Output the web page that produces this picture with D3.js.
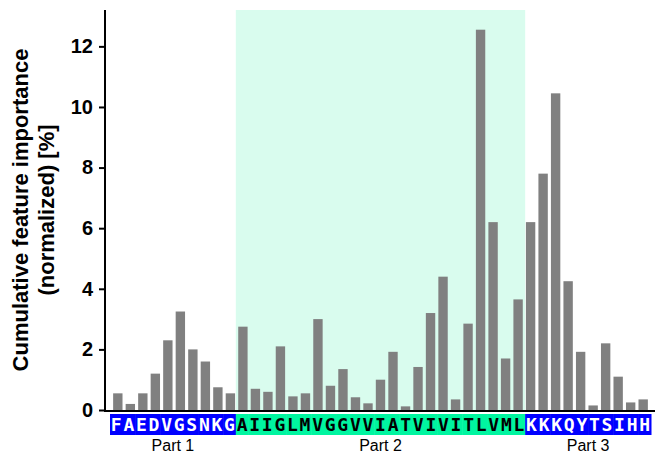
<!doctype html>
<html>
<head>
<script src="https://cdn.jsdelivr.net/npm/d3@7"></script>
<style>body{margin:0;background:#fff}text{font-family:Arial,"Liberation Sans",sans-serif}</style>
</head>
<body>
<svg id="chart" width="666" height="466"></svg>
<script>
var part1 = "FAEDVGSNKG".split("");
var part2 = "AIIGLMVGGVVIATVIVITLVML".split("");
var part3 = "KKKQYTSIHH".split("");
var values1 = [0.55,0.2,0.55,1.2,2.3,3.25,2.0,1.6,0.75,0.55];
var values2 = [2.75,0.7,0.6,2.1,0.45,0.55,3.0,0.8,1.35,0.42,0.22,1.0,1.92,0.12,1.42,3.2,4.4,0.35,2.85,12.55,6.2,1.7,3.65];
var values3 = [6.2,7.8,10.45,4.25,1.92,0.15,2.2,1.1,0.25,0.35];
var yTicks = [0,2,4,6,8,10,12];

var data = [];
[[part1,values1,1],[part2,values2,2],[part3,values3,3]].forEach(function(p){
  p[0].forEach(function(l,i){ data.push({i:data.length, letter:l, v:p[1][i], part:p[2]}); });
});

var svg = d3.select("#chart");
var mLeft = 105, mRight = 655, mTop = 10, mBottom = 410;
var x = d3.scaleBand().domain(d3.range(data.length)).range([mLeft+5, mRight-4]).padding(0.25);
var xo = d3.scaleBand().domain(d3.range(data.length)).range([mLeft+5, mRight-4]).padding(0);
var y = d3.scaleLinear().domain([0,13.2]).range([mBottom, mTop]);

// shaded part 2
var s = xo(part1.length), e = xo(part1.length+part2.length-1)+xo.bandwidth();
svg.append("rect").attr("x",s).attr("y",mTop).attr("width",e-s).attr("height",mBottom-mTop).attr("fill","#d9fcee");

svg.selectAll(".bar").data(data).enter().append("rect")
  .attr("x",function(d){return x(d.i);}).attr("width",x.bandwidth())
  .attr("y",function(d){return y(d.v);}).attr("height",function(d){return mBottom-y(d.v);})
  .attr("fill","#808080");

// letter boxes
svg.selectAll(".box").data(data).enter().append("rect")
  .attr("x",function(d){return xo(d.i);}).attr("width",xo.bandwidth()+0.5)
  .attr("y",414).attr("height",21)
  .attr("fill",function(d){return d.part===2?"#00f5a0":"#0000ff";});
svg.selectAll(".let").data(data).enter().append("text")
  .attr("x",function(d){return xo(d.i)+xo.bandwidth()/2;}).attr("y",431)
  .attr("text-anchor","middle").style("font-family","'DejaVu Sans Mono',monospace")
  .style("font-weight","bold").style("font-size","18px")
  .attr("fill",function(d){return d.part===2?"#000":"#fff";})
  .text(function(d){return d.letter;});

var partLabels = [["Part 1",0,part1.length],["Part 2",part1.length,part2.length],["Part 3",part1.length+part2.length,part3.length]];
partLabels.forEach(function(p){
  var a = xo(p[1]), b = xo(p[1]+p[2]-1)+xo.bandwidth();
  svg.append("text").attr("x",(a+b)/2).attr("y",451).attr("text-anchor","middle").style("font-size","16px").text(p[0]);
});

var yAxis = svg.append("g").attr("transform","translate("+mLeft+",0)").call(d3.axisLeft(y).tickValues(yTicks).tickSize(6).tickPadding(6));
yAxis.select(".domain").attr("stroke-width",2).attr("d","M0,"+mTop+"V"+mBottom);
yAxis.selectAll(".tick line").attr("stroke-width",2);
yAxis.selectAll("text").style("font-size","20px").style("font-weight","bold").attr("fill","#000");
svg.append("line").attr("x1",mLeft-1).attr("x2",mRight).attr("y1",mBottom+1).attr("y2",mBottom+1).attr("stroke","#000").attr("stroke-width",2);

var lab = svg.append("text").attr("transform","translate(28,"+(mTop+mBottom)/2+") rotate(-90)").attr("text-anchor","middle")
  .style("font-size","22px").style("font-weight","bold");
lab.append("tspan").attr("x",0).attr("dy","0").text("Cumulative feature importance");
lab.append("tspan").attr("x",0).attr("dy","26").text("(normalized) [%]");
</script>
</body>
</html>
